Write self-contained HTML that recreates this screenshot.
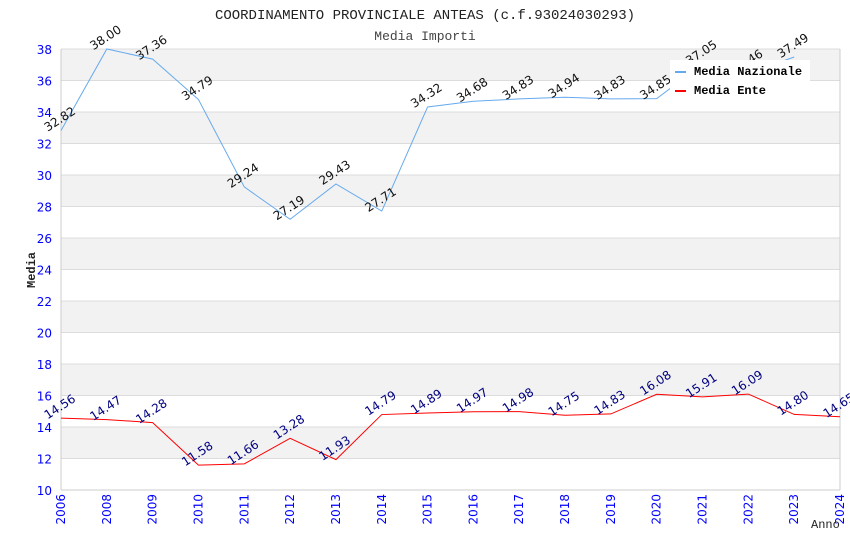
<!DOCTYPE html>
<html><head><meta charset="utf-8"><style>
body{margin:0;background:#fff;}
svg text{font-family:"DejaVu Sans","Liberation Sans",sans-serif;}
.mono{font-family:"Liberation Mono","DejaVu Sans Mono",monospace;}
</style></head><body>
<svg id="c" width="850" height="550" xmlns="http://www.w3.org/2000/svg"></svg>
<script>
const years=["2006","2008","2009","2010","2011","2012","2013","2014","2015","2016","2017","2018","2019","2020","2021","2022","2023","2024"];
const nazionale=[32.82,38.00,37.36,34.79,29.24,27.19,29.43,27.71,34.32,34.68,34.83,34.94,34.83,34.85,37.05,36.46,37.49,null];
const ente=[14.56,14.47,14.28,11.58,11.66,13.28,11.93,14.79,14.89,14.97,14.98,14.75,14.83,16.08,15.91,16.09,14.80,14.65];
const yTicks=[10,12,14,16,18,20,22,24,26,28,30,32,34,36,38];
const X0=61,X1=840,Y0=490,Y1=49,ymin=10,ymax=38;
const NS="http://www.w3.org/2000/svg";
const svg=document.getElementById('c');
function xs(i){return X0+(X1-X0)*i/(years.length-1);}
function ys(v){return Y0-(v-ymin)/(ymax-ymin)*(Y0-Y1);}
function mk(t,a,p){const e=document.createElementNS(NS,t);for(const k in a)e.setAttribute(k,a[k]);(p||svg).appendChild(e);return e;}
for(let v=12;v<38;v+=4){
 const r=mk('rect',{x:X0,y:ys(v+2),width:X1-X0,height:ys(v)-ys(v+2),fill:'#f2f2f2'});
 
 
}
yTicks.forEach(v=>{
 const l=mk('line',{x1:X0,x2:X1,y1:ys(v),y2:ys(v),stroke:'#dcdcdc','stroke-width':1});
 
 
 const t=mk('text',{x:X0-9,y:ys(v)+5,'text-anchor':'end','font-size':12,fill:'#0000ff'});
 t.textContent=v;
 
 
});
mk('line',{x1:X0,x2:X0,y1:Y1,y2:Y0,stroke:'#ccc'});
mk('line',{x1:X1,x2:X1,y1:Y1,y2:Y0,stroke:'#ccc'});
mk('line',{x1:X0,x2:X1,y1:Y0,y2:Y0,stroke:'#ccc'});
years.forEach((y,i)=>{
 const t=mk('text',{x:0,y:0,transform:`translate(${xs(i)+4},${Y0+4}) rotate(-90)`,'text-anchor':'end','font-size':12,fill:'#0000ff'});
 t.textContent=y;
 
 
});
function series(vals,color,lc,name){
 let d='';vals.forEach((v,i)=>{if(v==null)return;d+=(d?'L':'M')+xs(i)+','+ys(v);});
 const p=mk('path',{d:d,fill:'none',stroke:color,'stroke-width':1});
 
 
 vals.forEach((v,i)=>{if(v==null)return;
  const t=mk('text',{x:0,y:0,transform:`translate(${xs(i)+1},${ys(v)-8}) rotate(-33)`,'text-anchor':'middle','font-size':12,fill:lc});
  t.textContent=v.toFixed(2);
  
  
 });
}
series(nazionale,'#66aaee','#111','nazionale');
series(ente,'#ff0000','#000080','ente');
</script>
<svg width="850" height="550" style="position:absolute;left:0;top:0" xmlns="http://www.w3.org/2000/svg">
<text class="mono" x="425" y="19" text-anchor="middle" font-size="14" fill="#222">COORDINAMENTO PROVINCIALE ANTEAS (c.f.93024030293)</text>
<text class="mono" x="425" y="40" text-anchor="middle" font-size="13" fill="#444">Media Importi</text>
<text class="mono" transform="translate(35,270) rotate(-90)" text-anchor="middle" font-size="12" font-weight="bold" fill="#222">Media</text>
<text class="mono" x="811" y="528" font-size="12" fill="#222">Anno</text>
<g>
<rect x="670" y="60" width="140" height="40" fill="#fff"/>
<rect x="675" y="71" width="11" height="2" fill="#66aaee"/>
<text class="mono" x="694" y="75" font-size="12" font-weight="bold" fill="#000">Media Nazionale</text>
<rect x="675" y="90" width="11" height="2" fill="#ff0000"/>
<text class="mono" x="694" y="94" font-size="12" font-weight="bold" fill="#000">Media Ente</text>
</g>
</svg>
</body></html>
